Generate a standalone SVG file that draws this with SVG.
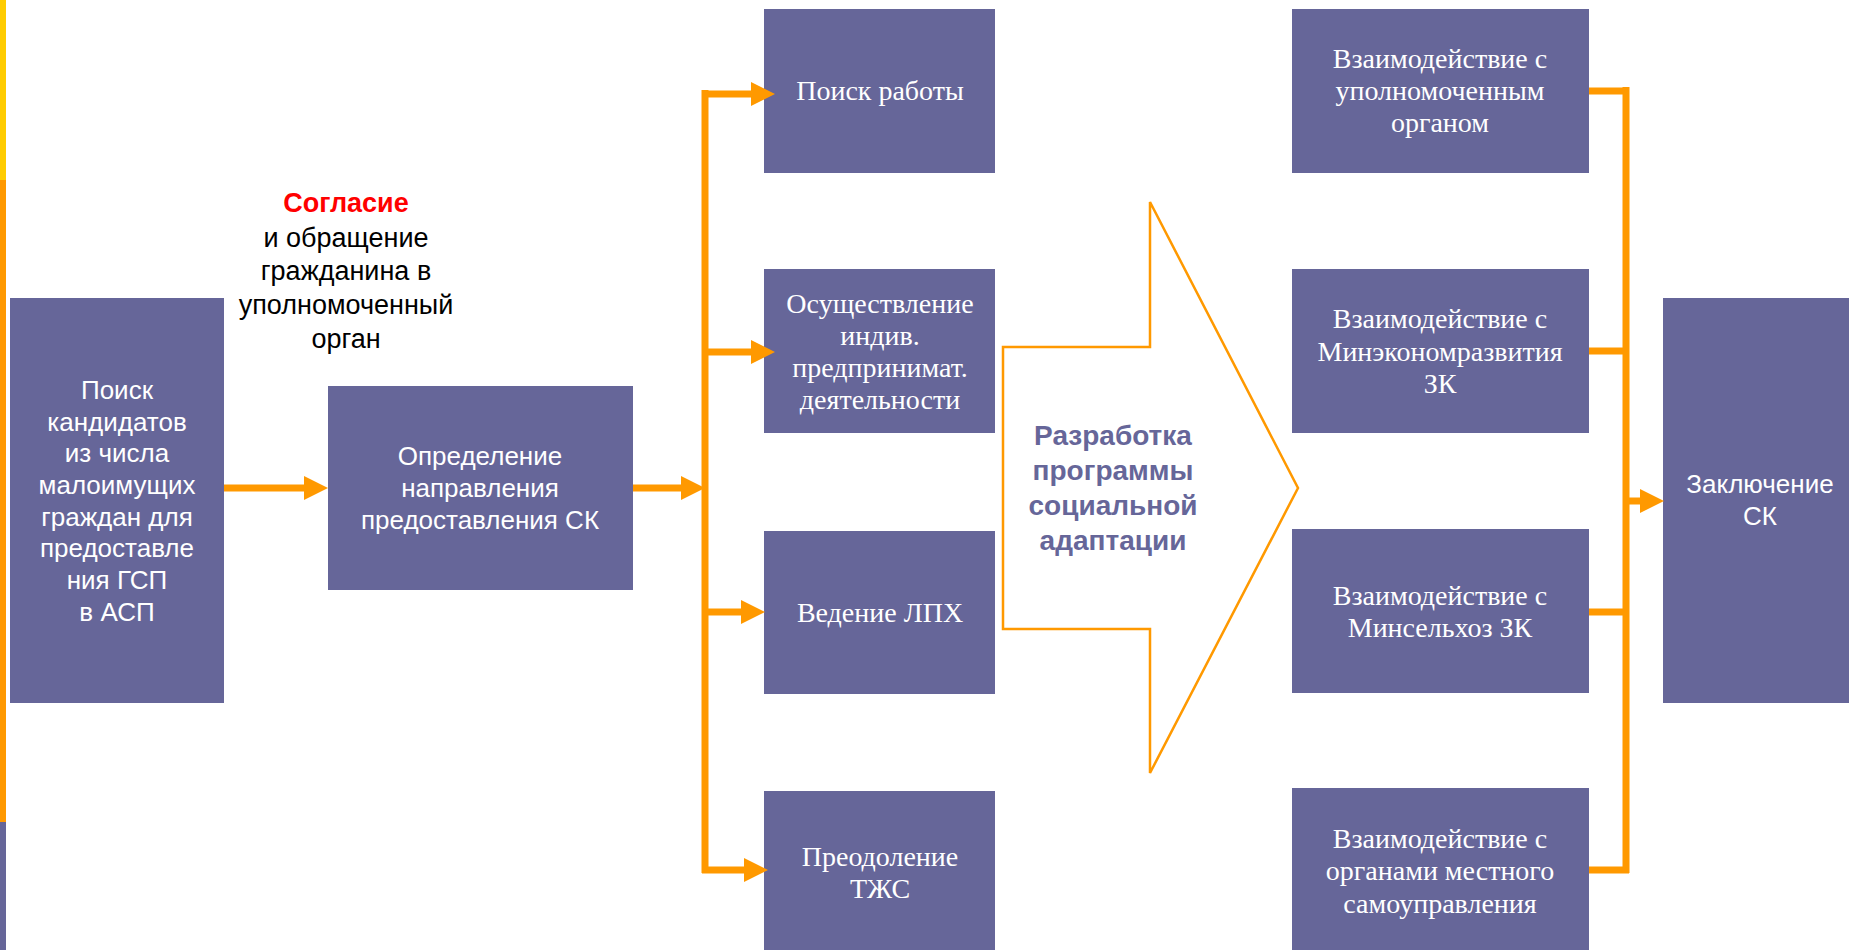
<svg xmlns="http://www.w3.org/2000/svg" width="1849" height="950" viewBox="0 0 1849 950">
<style>
.box{fill:#666699}
.sans{font-family:"Liberation Sans",Arial,sans-serif;font-size:26px;fill:#ffffff;text-anchor:middle}
.serif{font-family:"Liberation Serif","Times New Roman",serif;font-size:28px;fill:#ffffff;text-anchor:middle}
.lbl{font-family:"Liberation Sans",Arial,sans-serif;font-size:27px;fill:#000000;text-anchor:middle}
.big{font-family:"Liberation Sans",Arial,sans-serif;font-size:28px;font-weight:bold;fill:#666699;text-anchor:middle}
.ln{fill:none;stroke:#FF9900;stroke-width:7}
</style>
<defs>
<marker id="ah" markerUnits="userSpaceOnUse" markerWidth="24" markerHeight="24" refX="0" refY="12" orient="auto">
<path d="M0,0 L24,12 L0,24 Z" fill="#FF9900"/>
</marker>
</defs>
<rect width="1849" height="950" fill="#ffffff"/>
<rect x="0" y="0" width="6" height="180" fill="#FFCC00"/>
<rect x="0" y="180" width="6" height="642" fill="#FF9900"/>
<rect x="0" y="822" width="6" height="128" fill="#666699"/>

<g id="n-search">
<rect class="box" x="10" y="298" width="214" height="405"/>
<text class="sans"><tspan x="117" y="399">Поиск</tspan><tspan x="117" y="431">кандидатов</tspan><tspan x="117" y="462">из числа</tspan><tspan x="117" y="494">малоимущих</tspan><tspan x="117" y="526">граждан для</tspan><tspan x="117" y="557">предоставле</tspan><tspan x="117" y="589">ния ГСП</tspan><tspan x="117" y="621">в АСП</tspan></text>
</g>

<g id="n-label">
<text class="lbl"><tspan x="346" y="212" fill="#FF0000" font-weight="bold">Согласие</tspan><tspan x="346" y="247">и обращение</tspan><tspan x="346" y="280">гражданина в</tspan><tspan x="346" y="314">уполномоченный</tspan><tspan x="346" y="348">орган</tspan></text>
</g>

<g id="n-direction">
<rect class="box" x="328" y="386" width="305" height="204"/>
<text class="sans"><tspan x="480" y="465">Определение</tspan><tspan x="480" y="497">направления</tspan><tspan x="480" y="529">предоставления СК</tspan></text>
</g>

<g id="n-job">
<rect class="box" x="764" y="9" width="231" height="164"/>
<text class="serif"><tspan x="880" y="100">Поиск работы</tspan></text>
</g>
<g id="n-ip">
<rect class="box" x="764" y="269" width="231" height="164"/>
<text class="serif"><tspan x="880" y="313">Осуществление</tspan><tspan x="880" y="345">индив.</tspan><tspan x="880" y="377">предпринимат.</tspan><tspan x="880" y="409">деятельности</tspan></text>
</g>
<g id="n-lph">
<rect class="box" x="764" y="531" width="231" height="163"/>
<text class="serif"><tspan x="880" y="622">Ведение ЛПХ</tspan></text>
</g>
<g id="n-tzhs">
<rect class="box" x="764" y="791" width="231" height="165"/>
<text class="serif"><tspan x="880" y="866">Преодоление</tspan><tspan x="880" y="898">ТЖС</tspan></text>
</g>

<g id="n-program">
<path d="M1003,347 H1150 V202 L1298,488 L1150,773 V629 H1003 Z" fill="#ffffff" stroke="#FF9900" stroke-width="2.5"/>
<text class="big"><tspan x="1113" y="445">Разработка</tspan><tspan x="1113" y="480">программы</tspan><tspan x="1113" y="515">социальной</tspan><tspan x="1113" y="550">адаптации</tspan></text>
</g>

<g id="n-org">
<rect class="box" x="1292" y="9" width="297" height="164"/>
<text class="serif"><tspan x="1440" y="68">Взаимодействие с</tspan><tspan x="1440" y="100">уполномоченным</tspan><tspan x="1440" y="132">органом</tspan></text>
</g>
<g id="n-econ">
<rect class="box" x="1292" y="269" width="297" height="164"/>
<text class="serif"><tspan x="1440" y="328">Взаимодействие с</tspan><tspan x="1440" y="361">Минэкономразвития</tspan><tspan x="1440" y="393">ЗК</tspan></text>
</g>
<g id="n-agro">
<rect class="box" x="1292" y="529" width="297" height="164"/>
<text class="serif"><tspan x="1440" y="605">Взаимодействие с</tspan><tspan x="1440" y="637">Минсельхоз ЗК</tspan></text>
</g>
<g id="n-local">
<rect class="box" x="1292" y="788" width="297" height="168"/>
<text class="serif"><tspan x="1440" y="848">Взаимодействие с</tspan><tspan x="1440" y="880">органами местного</tspan><tspan x="1440" y="913">самоуправления</tspan></text>
</g>

<g id="n-conclusion">
<rect class="box" x="1663" y="298" width="190" height="405"/>
<text class="sans"><tspan x="1760" y="493">Заключение</tspan><tspan x="1760" y="525">СК</tspan></text>
</g>

<g id="connectors">
<path class="ln" d="M224,488 H304" marker-end="url(#ah)"/>
<path class="ln" d="M633,488 H681" marker-end="url(#ah)"/>
<path class="ln" d="M705,90 V873"/>
<path class="ln" d="M702,94 H751" marker-end="url(#ah)"/>
<path class="ln" d="M702,352 H751" marker-end="url(#ah)"/>
<path class="ln" d="M702,612 H741" marker-end="url(#ah)"/>
<path class="ln" d="M702,870 H744" marker-end="url(#ah)"/>
<path class="ln" d="M1589,91 H1629"/>
<path class="ln" d="M1589,351 H1629"/>
<path class="ln" d="M1589,612 H1629"/>
<path class="ln" d="M1589,870 H1629"/>
<path class="ln" d="M1626,87 V873"/>
<path class="ln" d="M1626,501 H1640" marker-end="url(#ah)"/>
</g>
</svg>
